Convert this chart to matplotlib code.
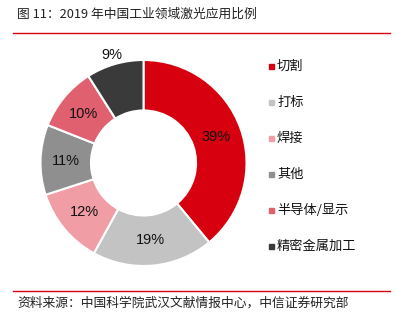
import numpy as np
import matplotlib.pyplot as plt
from matplotlib.lines import Line2D

plt.rcParams['font.family'] = ['Noto Sans CJK SC', 'DejaVu Sans']

labels = ['切割', '打标', '焊接', '其他', '半导体/显示', '精密金属加工']
shares = [39, 19, 12, 11, 10, 9]
colors = ['#d7000f', '#c3c3c3', '#f09da6', '#8f8f8f', '#e0606f', '#3a3a3a']

fig = plt.figure(figsize=(3.98, 3.23), dpi=100)

# title + red rule
fig.text(17 / 398, 1 - 14 / 323, '图 11：2019 年中国工业领域激光应用比例',
         fontsize=9.2, va='center', ha='left', color='#222222')
fig.add_artist(Line2D([13 / 398, 390 / 398], [1 - 33 / 323] * 2,
                      color='#d7000f', lw=1.0))

# donut
ax = fig.add_axes([0.1018, 0.1765, 0.5176, 0.6378])
wedges, _ = ax.pie(shares, colors=colors, startangle=90, counterclock=False,
                   radius=1.0,
                   wedgeprops=dict(width=0.49, edgecolor='white', linewidth=1.5))
for w, s in zip(wedges, shares):
    ang = np.deg2rad((w.theta1 + w.theta2) / 2)
    r = 0.75 if s >= 10 else 1.09  # smallest slice label sits outside
    ax.text(r * np.cos(ang), r * np.sin(ang), f'{s}%', ha='center', va='center',
            fontsize=10.5, color='#111111', family=['Liberation Sans', 'DejaVu Sans'])
ax.set_xlim(-1, 1)
ax.set_ylim(-1, 1)
ax.set_aspect('equal')
ax.axis('off')

# legend
for i, (lab, c) in enumerate(zip(labels, colors)):
    y = 1 - (66 + i * 36) / 323
    fig.patches.append(plt.Rectangle((268.5 / 398, y - 2.5 / 323), 5 / 398, 5 / 323,
                                     transform=fig.transFigure, color=c))
    fig.text(277 / 398, y, lab, fontsize=9.5, va='center', ha='left', color='#111111')

# footer
fig.add_artist(Line2D([13 / 398, 390 / 398], [1 - 291 / 323] * 2,
                      color='#d7000f', lw=1.0))
fig.text(17 / 398, 1 - 303 / 323, '资料来源：中国科学院武汉文献情报中心，中信证券研究部',
         fontsize=9.2, va='center', ha='left', color='#222222')

fig.savefig('out.png', dpi=100)
